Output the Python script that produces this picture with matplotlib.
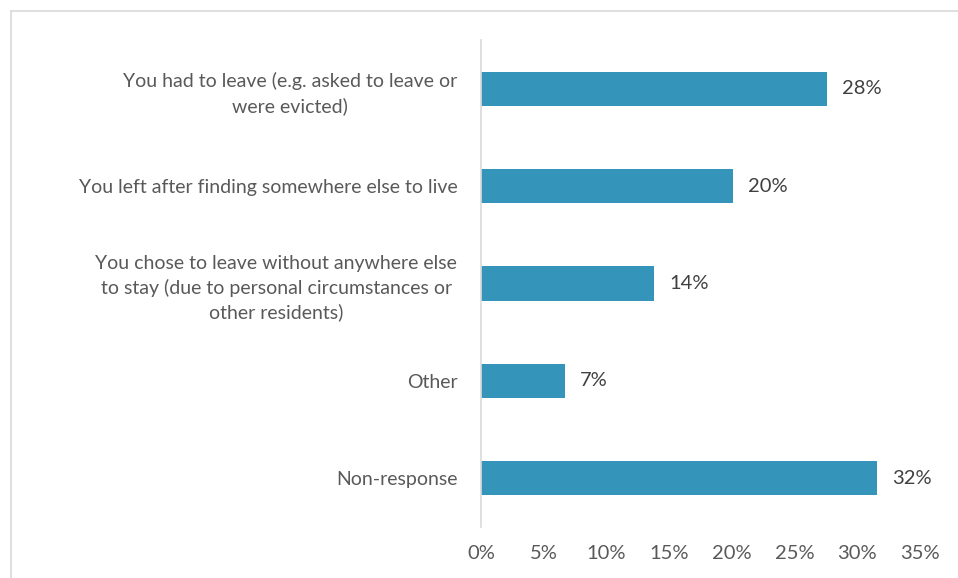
import matplotlib.pyplot as plt
from matplotlib.lines import Line2D

categories = [
    "You had to leave (e.g. asked to leave or\nwere evicted)",
    "You left after finding somewhere else to live",
    "You chose to leave without anywhere else\nto stay (due to personal circumstances or\nother residents)",
    "Other",
    "Non-response",
]
values = [27.6, 20.1, 13.8, 6.7, 31.6]
xticks = [0, 5, 10, 15, 20, 25, 30, 35]
xtick_labels = ["0%", "5%", "10%", "15%", "20%", "25%", "30%", "35%"]

plt.rcParams['font.family'] = ['Lato', 'DejaVu Sans']

fig = plt.figure(figsize=(9.58, 5.78), dpi=100)
ax = fig.add_axes([0.502, 0.088, 0.458, 0.843])

pos = list(range(len(categories)))
ax.barh(pos, values, height=0.35, color='#3494BA')

# data labels
for p, v in zip(pos, values):
    ax.annotate(f"{round(v)}%", (v, p), xytext=(11, 0), textcoords='offset points',
                va='center', ha='left', fontsize=14.5, color='#404040')

ax.set_xlim(0, 35)
ax.set_ylim(len(categories) - 0.5, -0.5)
ax.set_yticks(pos)
ax.set_yticklabels(categories, fontsize=14, color='#595959',
                   multialignment='center', linespacing=1.45)
ax.set_xticks(xticks)
ax.set_xticklabels(xtick_labels, fontsize=14.5, color='#595959')
ax.tick_params(axis='y', length=0, pad=17)
ax.tick_params(axis='x', length=0, pad=13)

for s in ['top', 'right', 'bottom']:
    ax.spines[s].set_visible(False)
ax.spines['left'].set_color('#d9d9d9')
ax.spines['left'].set_linewidth(1.2)

# light chart border (left and top)
fig.add_artist(Line2D([10.5 / 958, 10.5 / 958], [0, 1 - 11 / 578],
                      transform=fig.transFigure, color='#d9d9d9', lw=1.2))
fig.add_artist(Line2D([10.5 / 958, 1], [1 - 11 / 578, 1 - 11 / 578],
                      transform=fig.transFigure, color='#d9d9d9', lw=1.2))

fig.savefig('out.png', dpi=100)
